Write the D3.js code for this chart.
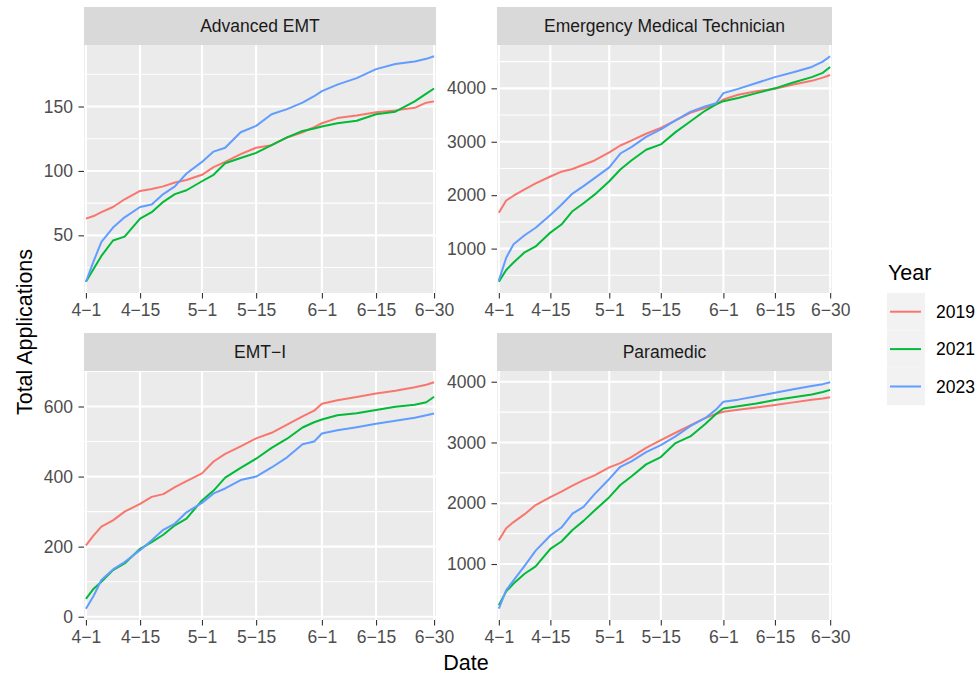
<!DOCTYPE html>
<html>
<head>
<meta charset="utf-8">
<script src="https://cdn.jsdelivr.net/npm/d3@7"></script>
<style>
  body { margin: 0; background: #fff; }
  text { font-family: "Liberation Sans", Arial, sans-serif; }
</style>
</head>
<body>
<div id="chart"></div>
<script>
// Data
const days = [0, 2, 4, 7, 10, 14, 17, 20, 23, 26, 30, 33, 36, 40, 44, 48, 52, 56, 59, 61, 65, 70, 75, 80, 85, 88, 90];
const tickDays = [0, 14, 30, 44, 61, 75, 90];
const tickLabels = ['4−1', '4−15', '5−1', '5−15', '6−1', '6−15', '6−30'];
const years = ['2019', '2021', '2023'];
const colors = ['#F8766D', '#00BA38', '#619CFF'];
const panelNames = ['Advanced EMT', 'Emergency Medical Technician', 'EMT−I', 'Paramedic'];

const aemt2019 = [63, 65, 68, 72, 78, 84.5, 86, 88, 91, 93, 97, 103, 107, 113, 118, 120, 126, 130, 134, 137, 141, 143, 145.5, 147, 149, 153, 154];
const aemt2021 = [14, 24, 34, 46, 49, 63, 68, 76, 82, 85, 92, 97, 106, 110, 114, 120, 126, 131, 133, 134.5, 137, 139, 144, 146, 154, 160, 164];
const aemt2023 = [14, 30, 45, 56, 64, 72, 74, 82, 88, 98, 107, 115, 118, 130, 135, 144, 148, 153, 158, 162, 167, 172, 179, 183, 185, 187, 189];

const emt2019 = [1670, 1900, 1990, 2110, 2220, 2350, 2440, 2490, 2570, 2650, 2800, 2930, 3020, 3150, 3260, 3400, 3540, 3630, 3700, 3790, 3880, 3945, 3990, 4070, 4140, 4200, 4250];
const emt2021 = [380, 600, 740, 930, 1040, 1300, 1450, 1700, 1850, 2010, 2260, 2480, 2650, 2850, 2950, 3180, 3380, 3580, 3700, 3760, 3820, 3910, 4000, 4110, 4210, 4290, 4400];
const emt2023 = [400, 830, 1080, 1250, 1390, 1630, 1820, 2030, 2170, 2320, 2520, 2780, 2900, 3090, 3230, 3400, 3560, 3660, 3720, 3910, 3990, 4100, 4210, 4300, 4400, 4500, 4600];

const emti2019 = [204, 232, 257, 275, 300, 322, 342, 350, 370, 387, 409, 443, 465, 486, 509, 525, 548, 572, 588, 608, 618, 627, 637, 645, 655, 662, 669];
const emti2021 = [51, 80, 100, 133, 152, 194, 213, 234, 261, 280, 332, 360, 397, 425, 451, 482, 508, 540, 555, 563, 575, 581, 590, 599, 605, 612, 628];
const emti2023 = [23, 60, 105, 135, 156, 190, 218, 248, 266, 298, 325, 352, 366, 390, 400, 426, 455, 492, 500, 523, 532, 541, 551, 559, 568, 575, 580];

const para2019 = [1390, 1590, 1690, 1820, 1970, 2100, 2190, 2290, 2380, 2460, 2590, 2660, 2760, 2910, 3040, 3160, 3280, 3400, 3470, 3505, 3540, 3575, 3615, 3660, 3705, 3725, 3745];
const para2021 = [320, 550, 680, 840, 960, 1250, 1370, 1560, 1710, 1880, 2100, 2300, 2440, 2640, 2760, 2990, 3100, 3300, 3470, 3560, 3595, 3640, 3700, 3745, 3790, 3830, 3865];
const para2023 = [265, 570, 730, 970, 1220, 1470, 1600, 1830, 1940, 2150, 2400, 2600, 2690, 2840, 2955, 3100, 3270, 3400, 3540, 3670, 3705, 3760, 3820, 3875, 3930, 3960, 3990];

const aemtTicks = [50, 100, 150];
const emtTicks = [1000, 2000, 3000, 4000];
const emtiTicks = [0, 200, 400, 600];
const paraTicks = [1000, 2000, 3000, 4000];

const panelSeries = [
  [aemt2019, aemt2021, aemt2023],
  [emt2019, emt2021, emt2023],
  [emti2019, emti2021, emti2023],
  [para2019, para2021, para2023]
];
const panelTicks = [aemtTicks, emtTicks, emtiTicks, paraTicks];

// Dimensions
const width = 979, height = 677;
const cols = [[84, 436], [497, 832]];
const rows = [{ strip: 7, top: 45, bottom: 293 }, { strip: 333, top: 371, bottom: 620 }];

const svg = d3.select('#chart').append('svg')
  .attr('width', width)
  .attr('height', height);

panelNames.forEach((name, i) => {
  const [x0, x1] = cols[i % 2];
  const row = rows[Math.floor(i / 2)];
  const series = panelSeries[i];
  const ticks = panelTicks[i];

  const all = series.flat();
  const [lo, hi] = d3.extent(all);
  const pad = (hi - lo) * 0.05;

  const xScale = d3.scaleLinear().domain([-0.5, 90.5]).range([x0, x1]);
  const yScale = d3.scaleLinear().domain([lo - pad, hi + pad]).range([row.bottom, row.top]);

  const g = svg.append('g');

  // panel background
  g.append('rect')
    .attr('x', x0).attr('y', row.top)
    .attr('width', x1 - x0).attr('height', row.bottom - row.top)
    .attr('fill', '#EBEBEB');

  // minor y grid
  const step = ticks[1] - ticks[0];
  const minors = [ticks[0] - step / 2].concat(ticks.map(t => t + step / 2))
    .filter(v => v > yScale.domain()[0] && v < yScale.domain()[1]);
  g.selectAll('.minor').data(minors).join('line')
    .attr('x1', x0).attr('x2', x1)
    .attr('y1', d => yScale(d)).attr('y2', d => yScale(d))
    .attr('stroke', '#fff').attr('stroke-width', 1.1);

  // major grid
  g.selectAll('.majory').data(ticks).join('line')
    .attr('x1', x0).attr('x2', x1)
    .attr('y1', d => yScale(d)).attr('y2', d => yScale(d))
    .attr('stroke', '#fff').attr('stroke-width', 2.1);
  g.selectAll('.majorx').data(tickDays).join('line')
    .attr('y1', row.top).attr('y2', row.bottom)
    .attr('x1', d => xScale(d)).attr('x2', d => xScale(d))
    .attr('stroke', '#fff').attr('stroke-width', 2.1);

  // lines
  const line = d3.line()
    .x((d, j) => xScale(days[j]))
    .y(d => yScale(d));
  series.forEach((vals, k) => {
    g.append('path')
      .datum(vals)
      .attr('d', line)
      .attr('fill', 'none')
      .attr('stroke', colors[k])
      .attr('stroke-width', 2)
      .attr('stroke-linejoin', 'round');
  });

  // strip
  g.append('rect')
    .attr('x', x0).attr('y', row.strip)
    .attr('width', x1 - x0).attr('height', row.top - row.strip)
    .attr('fill', '#D9D9D9');
  g.append('text')
    .attr('x', (x0 + x1) / 2)
    .attr('y', (row.strip + row.top) / 2)
    .attr('dy', '0.35em')
    .attr('text-anchor', 'middle')
    .attr('font-size', 17.5)
    .attr('fill', '#1A1A1A')
    .text(name);

  // axes
  const xAxis = g.append('g')
    .attr('transform', `translate(0,${row.bottom})`)
    .call(d3.axisBottom(xScale).tickValues(tickDays).tickFormat((d, j) => tickLabels[j]).tickSize(5.5).tickPadding(5.5));
  const yAxis = g.append('g')
    .attr('transform', `translate(${x0},0)`)
    .call(d3.axisLeft(yScale).tickValues(ticks).tickFormat(d3.format('d')).tickSize(5.5).tickPadding(5.5));
  [xAxis, yAxis].forEach(a => {
    a.select('.domain').remove();
    a.selectAll('line').attr('stroke', '#333').attr('stroke-width', 1.1);
    a.selectAll('text')
      .attr('fill', '#4D4D4D')
      .style('font-size', '17.5px')
      .style('font-family', '"Liberation Sans", Arial, sans-serif');
  });
});

// Axis titles
svg.append('text')
  .attr('x', 466).attr('y', 670)
  .attr('text-anchor', 'middle')
  .attr('font-size', 21.5)
  .attr('fill', '#000')
  .text('Date');

svg.append('text')
  .attr('transform', 'translate(32,332) rotate(-90)')
  .attr('text-anchor', 'middle')
  .attr('font-size', 21.5)
  .attr('fill', '#000')
  .text('Total Applications');

// Legend
const legend = svg.append('g');
legend.append('text')
  .attr('x', 888).attr('y', 280)
  .attr('font-size', 21.5)
  .text('Year');
const keyH = 37.4;
years.forEach((yr, k) => {
  const ky = 293 + k * keyH;
  legend.append('rect')
    .attr('x', 887).attr('y', ky)
    .attr('width', 38).attr('height', keyH)
    .attr('fill', '#F2F2F2');
  legend.append('line')
    .attr('x1', 890).attr('x2', 921)
    .attr('y1', ky + keyH / 2).attr('y2', ky + keyH / 2)
    .attr('stroke', colors[k]).attr('stroke-width', 2);
  legend.append('text')
    .attr('x', 936).attr('y', ky + keyH / 2)
    .attr('dy', '0.35em')
    .attr('font-size', 17.5)
    .attr('fill', '#000')
    .text(yr);
});
</script>
</body>
</html>
